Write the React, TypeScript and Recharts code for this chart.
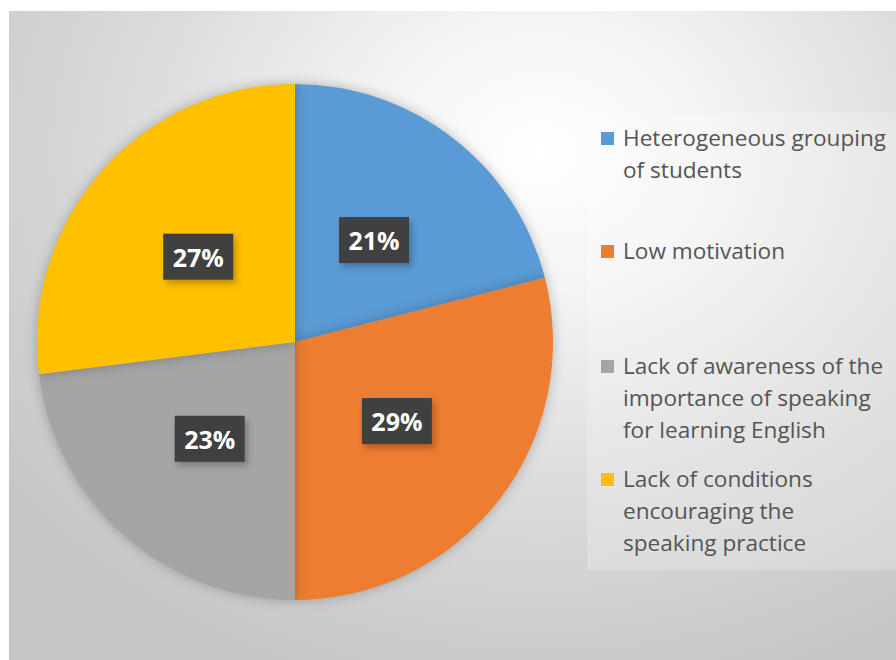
import React from "react";
import { PieChart, Pie, Cell, Legend } from "recharts";

const categories = [
  "Heterogeneous grouping\nof students",
  "Low motivation",
  "Lack of awareness of the\nimportance of speaking\nfor learning English",
  "Lack of conditions\nencouraging the\nspeaking practice",
];
const values = [21, 29, 23, 27];
const colors = ["#5B9BD5", "#ED7D31", "#A5A5A5", "#FFC000"];

const data = categories.map((name, i) => ({ name, value: values[i] }));

const RAD = Math.PI / 180;
const FONT = "'Open Sans', 'DejaVu Sans', sans-serif";

const renderLabel = (props: any) => {
  const { cx, cy, midAngle, outerRadius, value } = props;
  const r = outerRadius * 0.5;
  const x = cx + r * Math.cos(-midAngle * RAD);
  const y = cy + r * Math.sin(-midAngle * RAD);
  const w = 70;
  const h = 46;
  return (
    <g>
      <rect x={x - w / 2 + 3} y={y - h / 2 + 4} width={w} height={h} fill="rgba(0,0,0,0.25)" style={{ filter: "blur(3px)" }} />
      <rect x={x - w / 2} y={y - h / 2} width={w} height={h} fill="#404040" />
      <text
        x={x}
        y={y}
        textAnchor="middle"
        dominantBaseline="central"
        fill="#ffffff"
        fontFamily={FONT}
        fontWeight={700}
        fontSize={25}
      >
        {`${value}%`}
      </text>
    </g>
  );
};

const itemTops = [9, 122, 237, 350];

const renderLegend = () => (
  <div style={{ position: "relative", width: 309, height: 457, background: "rgba(255,255,255,0.22)" }}>
    {data.map((d, i) => (
      <div key={d.name} style={{ position: "absolute", left: 0, top: itemTops[i], width: 309 }}>
        <div style={{ position: "absolute", left: 14, top: 10, width: 13, height: 13, background: colors[i] }} />
        <div
          style={{
            position: "absolute",
            left: 36,
            top: 0,
            whiteSpace: "pre",
            fontFamily: FONT,
            fontSize: 22.6,
            lineHeight: "32px",
            color: "#555555",
          }}
        >
          {d.name}
        </div>
      </div>
    ))}
  </div>
);

export default function App() {
  return (
    <div style={{ position: "absolute", left: 0, top: 0, width: 896, height: 660, background: "#ffffff", overflow: "hidden" }}>
      <style>{`.recharts-pie-sector { filter: drop-shadow(0px 0px 6px rgba(0,0,0,0.25)); }`}</style>
      <div
        style={{
          position: "absolute",
          left: 9,
          top: 11,
          width: 887,
          height: 649,
          background: "radial-gradient(ellipse 75% 85% at 60% 22%, #ffffff 0%, #f4f4f4 25%, #dcdcdc 60%, #c6c6c6 100%)",
        }}
      />
      <div style={{ position: "absolute", left: 0, top: 0 }}>
        <PieChart width={896} height={660} margin={{ top: 0, right: 0, bottom: 0, left: 0 }}>
          <Pie
            data={data}
            dataKey="value"
            nameKey="name"
            cx={295}
            cy={342}
            outerRadius={258}
            startAngle={90}
            endAngle={-270}
            stroke="none"
            label={renderLabel}
            labelLine={false}
            isAnimationActive={false}
          >
            {data.map((d, i) => (
              <Cell key={d.name} fill={colors[i]} />
            ))}
          </Pie>
          <Legend
            content={renderLegend}
            wrapperStyle={{ position: "absolute", left: 587, top: 113, width: 309, height: 457 }}
          />
        </PieChart>
      </div>
    </div>
  );
}
